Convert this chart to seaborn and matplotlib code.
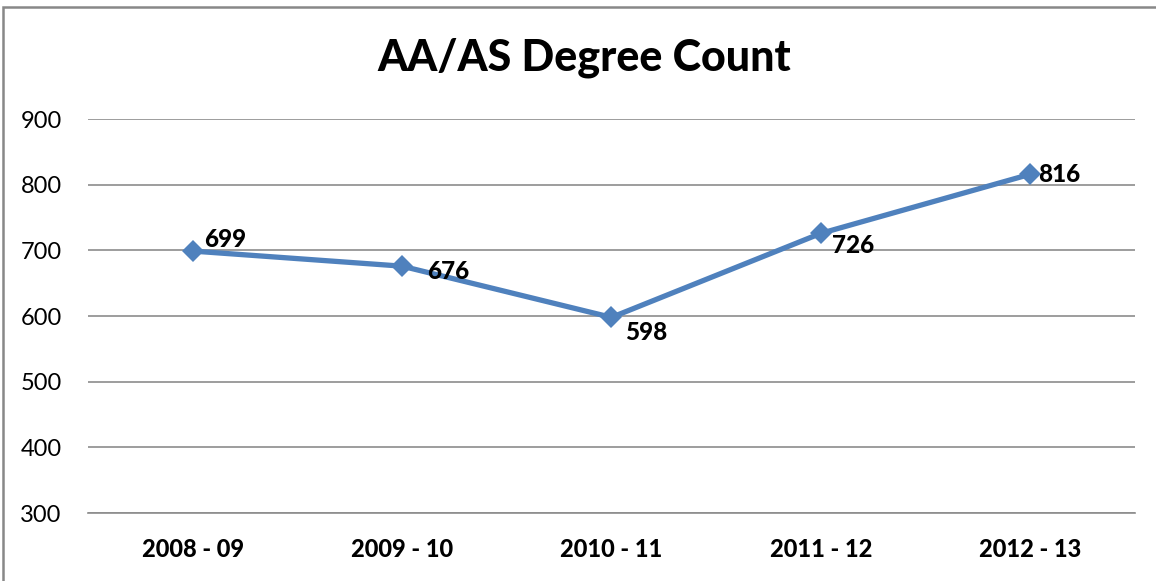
import matplotlib
matplotlib.use("Agg")
import matplotlib.pyplot as plt
import seaborn as sns
import pandas as pd
import numpy as np
from matplotlib.patches import Rectangle

# === Daten ===
jahre = ["2008 - 09", "2009 - 10", "2010 - 11", "2011 - 12", "2012 - 13"]
abschluesse = [699, 676, 598, 726, 816]
# Label-Versatz (Punkte) wie im Original
label_dx = [8, 18, 10, 8, 6]
label_dy = [8, -4, -11, -9, 0]

df = pd.DataFrame({"jahr": jahre, "anzahl": abschluesse})

sns.set_theme(style="white")
plt.rcParams["font.family"] = ["Lato", "DejaVu Sans"]
plt.rcParams["text.color"] = "black"

fig = plt.figure(figsize=(11.56, 5.81), dpi=100)
ax = fig.add_axes([0.0761, 0.117, 0.9057, 0.678])

sns.lineplot(data=df, x="jahr", y="anzahl", ax=ax, color="#4F81BD",
             linewidth=3.8, marker="D", markersize=11.5, markeredgewidth=0,
             sort=False)

for i, (j, v) in enumerate(zip(jahre, abschluesse)):
    ax.annotate(str(v), (i, v), xytext=(label_dx[i], label_dy[i]),
                textcoords="offset points", ha="left", va="center",
                fontsize=17.5, fontweight="black", color="black")

ax.set_ylim(300, 900)
ax.set_yticks(range(300, 901, 100))
ax.set_xlim(-0.5, len(jahre) - 0.5)
ax.set_xticks(range(len(jahre)))
ax.set_xticklabels(jahre, fontsize=17, fontweight="black", color="black")
ax.set_xticks(np.arange(-0.5, len(jahre), 1.0), minor=True)
ax.tick_params(axis="x", which="major", length=0, pad=18)
ax.tick_params(axis="x", which="minor", length=8, width=1.2, color="#888888", direction="out")
ax.tick_params(axis="y", length=0, labelsize=17, labelcolor="black", pad=19)
ax.set_xlabel("")
ax.set_ylabel("")

ax.yaxis.grid(True, color="#8c8c8c", linewidth=1.2)
ax.set_axisbelow(True)
for s in ["left", "right", "top"]:
    ax.spines[s].set_visible(False)
ax.spines["bottom"].set_color("#8c8c8c")
ax.spines["bottom"].set_linewidth(1.2)

fig.text(0.505, 0.90, "AA/AS Degree Count", ha="center", va="center",
         fontsize=31, fontweight="black", color="black")

# Rahmen ums Diagramm
fig.patches.append(Rectangle((3 / 1156, -0.05), 1.2, 1 - 7 / 581 + 0.05,
                             transform=fig.transFigure, fill=False,
                             edgecolor="#888888", linewidth=1.8))

plt.savefig("out.png", dpi=100)
